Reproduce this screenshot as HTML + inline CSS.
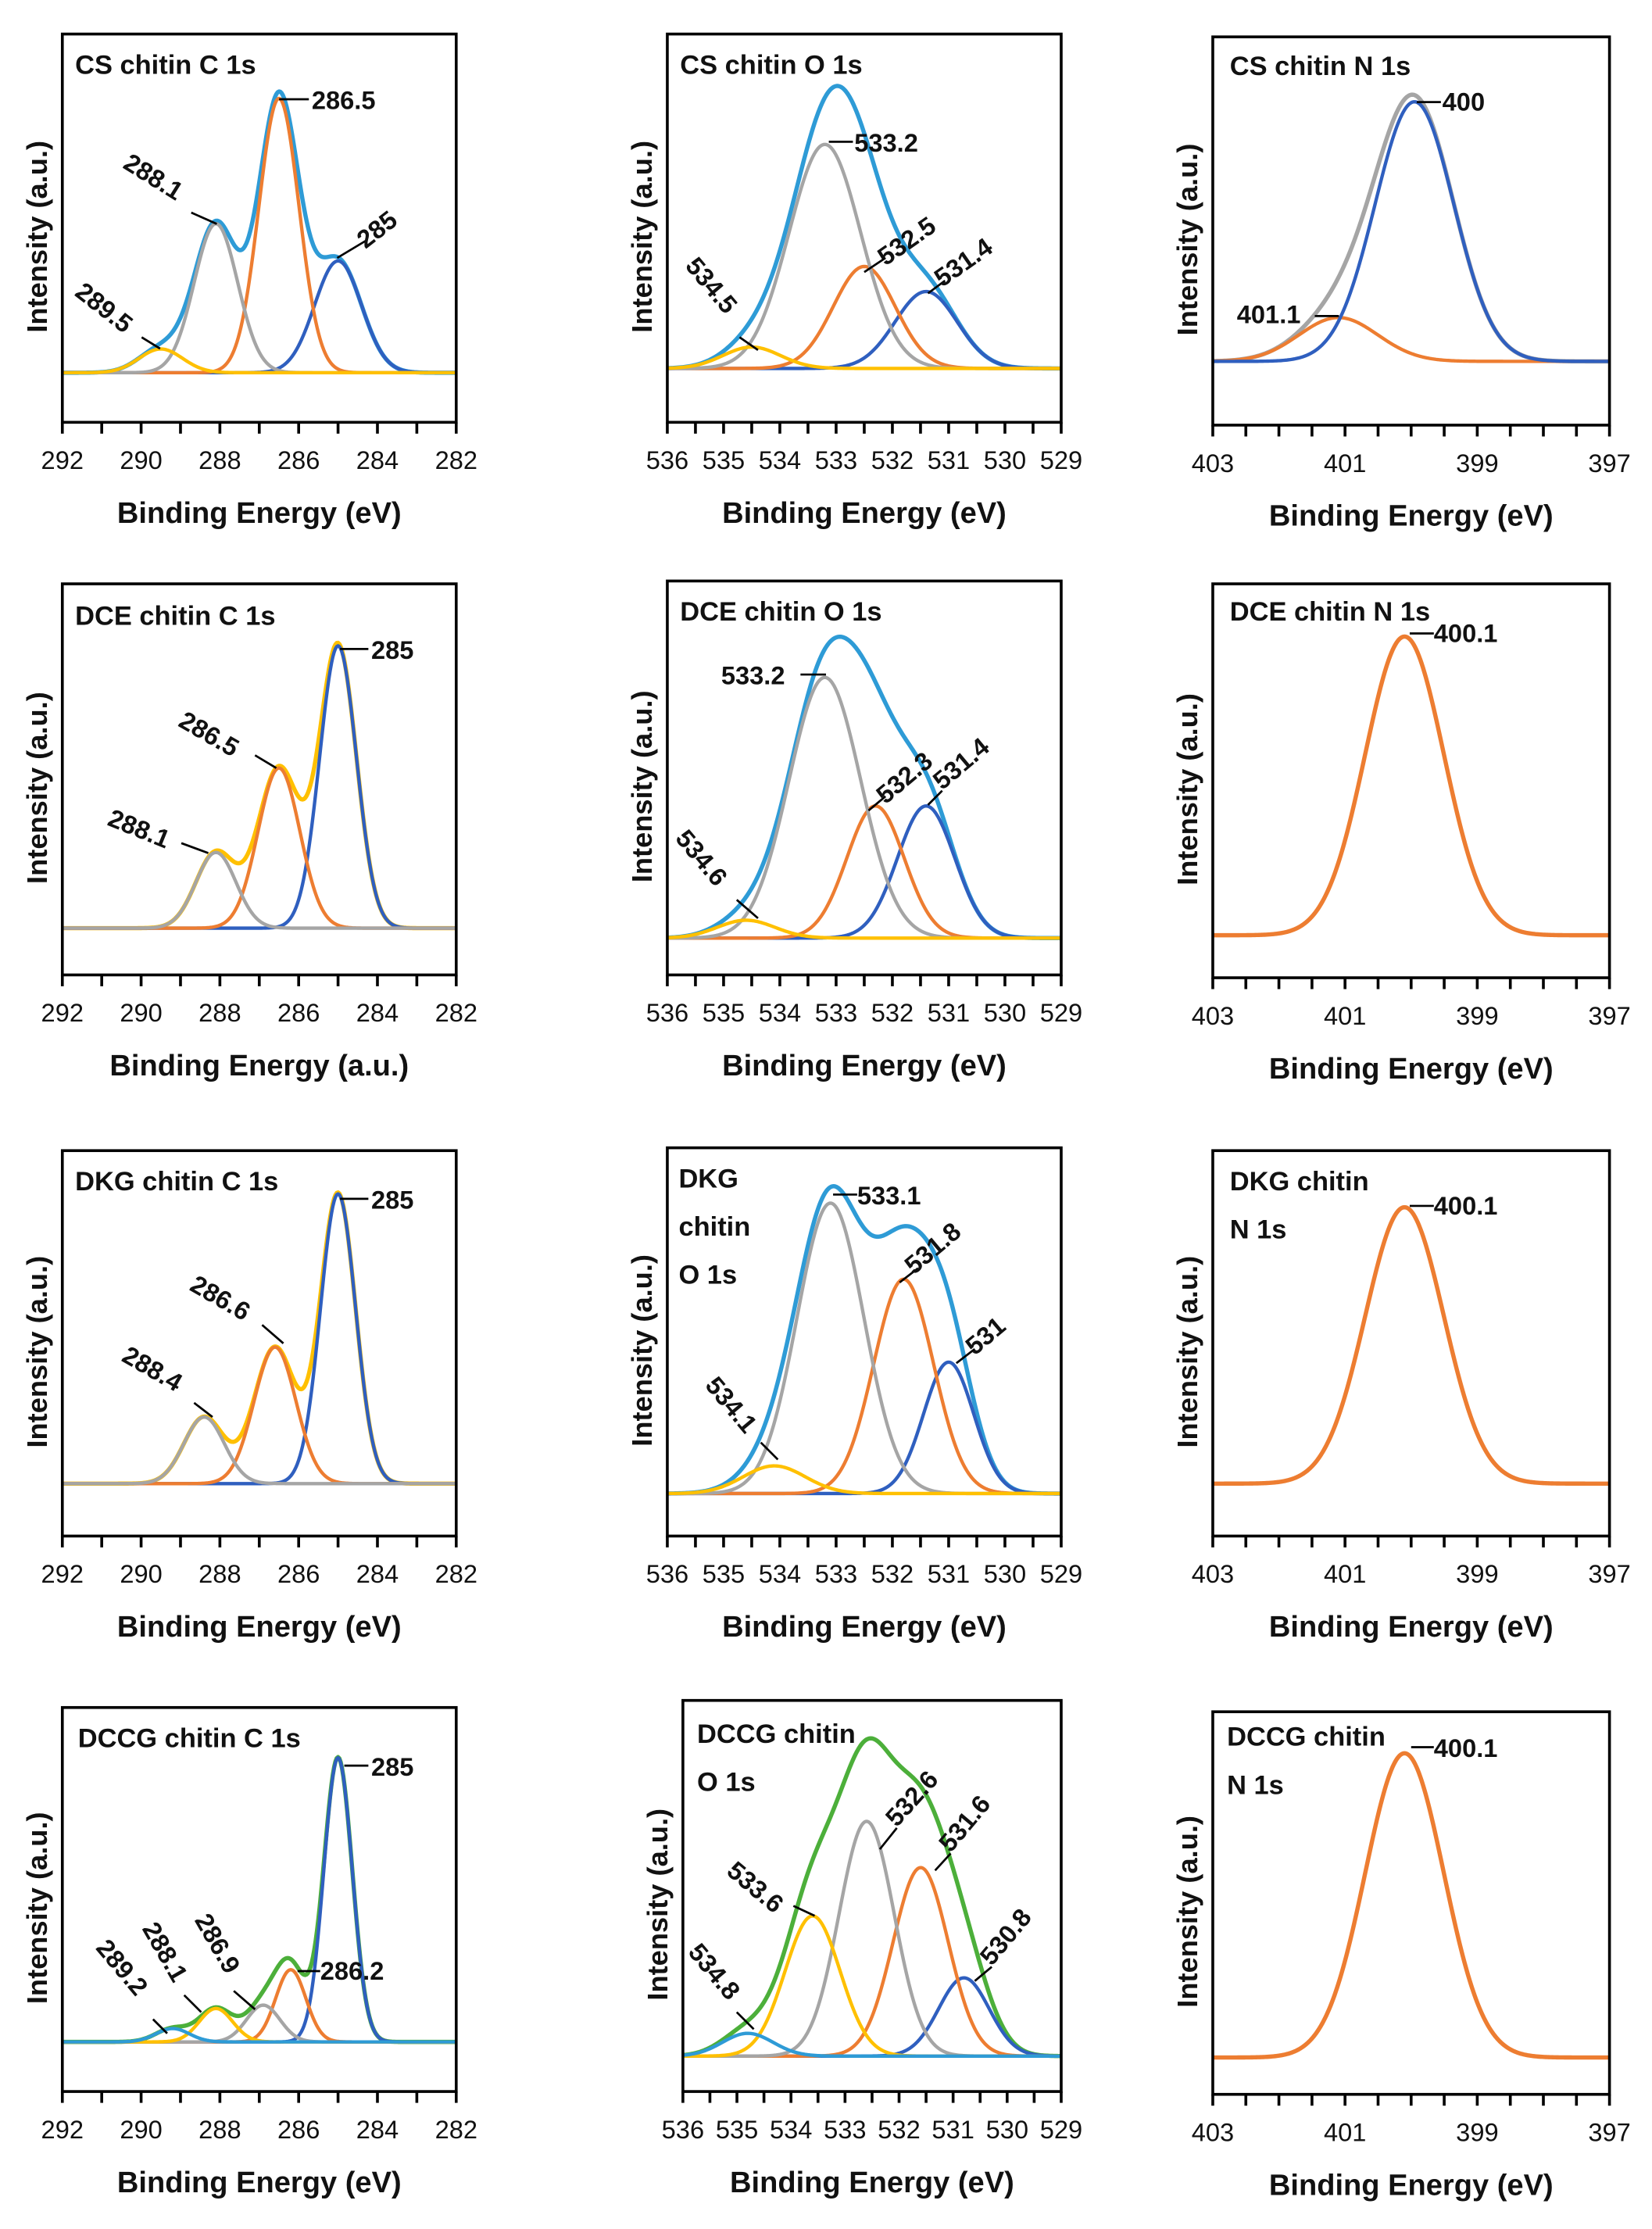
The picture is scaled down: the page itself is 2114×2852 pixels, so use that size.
<!DOCTYPE html>
<html><head><meta charset="utf-8"><style>
html,body{margin:0;padding:0;background:#fff}
svg{display:block}
text{font-family:"Liberation Sans",sans-serif;font-weight:bold;fill:#111}
</style></head><body>
<svg id="fig" width="2114" height="2852" viewBox="0 0 1166 1573" xmlns="http://www.w3.org/2000/svg"></svg>
<script>
// ---- data ----
const colC = {x0:292,x1:282,minor:1,major:[292,290,288,286,284,282]};
const colO = {x0:536,x1:529,minor:0.5,major:[536,535,534,533,532,531,530,529]};
const colN = {x0:403,x1:397,minor:0.5,major:[403,401,399,397]};
// components: [center eV, height, fwhm, color]
const p1c = [[289.5,7,1.3,'#FFC000'],[288.1,44,1.3,'#A5A5A5'],[286.5,81,1.2,'#ED7D31'],[285,33,1.4,'#2F5FBF']];
const p1o = [[534.5,6.4,1.2,'#FFC000'],[533.2,67,1.5,'#A5A5A5'],[532.5,30.5,1.3,'#ED7D31'],[531.4,23,1.3,'#2F5FBF']];
const p1n = [[399.95,80,1.4,'#2F5FBF'],[401.1,13.5,1.4,'#ED7D31']];
const p2c = [[288.1,22,1.2,'#A5A5A5'],[286.5,46.5,1.25,'#ED7D31'],[285,82,1.1,'#2F5FBF']];
const p2o = [[534.6,5,1.2,'#FFC000'],[533.2,73,1.5,'#A5A5A5'],[532.3,37,1.2,'#ED7D31'],[531.4,37,1.2,'#2F5FBF']];
const p2n = [[400.1,85,1.4,'#ED7D31']];
const p3c = [[288.4,20,1.2,'#A5A5A5'],[286.6,41,1.25,'#ED7D31'],[285,87,1.05,'#2F5FBF']];
const p3o = [[534.1,8,1.3,'#FFC000'],[533.1,84,1.4,'#A5A5A5'],[531.8,62,1.25,'#ED7D31'],[531,38,1.05,'#2F5FBF']];
const p3n = [[400.1,83,1.4,'#ED7D31']];
const p4c = [[289.2,4,1.0,'#2E9BD6'],[288.1,10,1.0,'#FFC000'],[286.9,11,1.0,'#A5A5A5'],[286.2,21.6,0.9,'#ED7D31'],[285,85,0.85,'#2F5FBF']];
const p4o = [[534.8,6.4,1.1,'#2E9BD6'],[533.6,39.4,1.2,'#FFC000'],[532.6,66,1.2,'#A5A5A5'],[531.6,53,1.2,'#ED7D31'],[530.8,22,1.1,'#2F5FBF']];
const p4n = [[400.1,88,1.4,'#ED7D31']];
const panels = [
 {id:'cs-c1s',box:[44,24,322,298],b:35,ax:colC,comps:p1c,env:'#2E9BD6',es:1,xl:'Binding Energy (eV)',title:['CS chitin C 1s'],tx:53,ty:52,ylx:26},
 {id:'cs-o1s',box:[471,24,749,298],b:38,ax:colO,comps:p1o,env:'#2E9BD6',es:1,xl:'Binding Energy (eV)',title:['CS chitin O 1s'],tx:480,ty:52,ylx:453},
 {id:'cs-n1s',box:[856,26,1136,300],b:45,ax:colN,comps:p1n,env:'#A5A5A5',es:1,xl:'Binding Energy (eV)',title:['CS chitin N 1s'],tx:868,ty:53,ylx:838},
 {id:'dce-c1s',box:[44,412,322,688],b:33,ax:colC,comps:p2c,env:'#FFC000',es:1,xl:'Binding Energy (a.u.)',title:['DCE chitin C 1s'],tx:53,ty:441,ylx:26},
 {id:'dce-o1s',box:[471,410,749,688],b:26,ax:colO,comps:p2o,env:'#2E9BD6',es:1,xl:'Binding Energy (eV)',title:['DCE chitin O 1s'],tx:480,ty:438,ylx:453},
 {id:'dce-n1s',box:[856,412,1136,690],b:30,ax:colN,comps:p2n,env:null,es:1,xl:'Binding Energy (eV)',title:['DCE chitin N 1s'],tx:868,ty:438,ylx:838},
 {id:'dkg-c1s',box:[44,812,322,1084],b:37,ax:colC,comps:p3c,env:'#FFC000',es:1,xl:'Binding Energy (eV)',title:['DKG chitin C 1s'],tx:53,ty:840,ylx:26},
 {id:'dkg-o1s',box:[471,810,749,1084],b:30,ax:colO,comps:p3o,env:'#2E9BD6',es:1,xl:'Binding Energy (eV)',title:['DKG','chitin','O 1s'],tx:479,ty:838,ylx:453},
 {id:'dkg-n1s',box:[856,812,1136,1084],b:37,ax:colN,comps:p3n,env:null,es:1,xl:'Binding Energy (eV)',title:['DKG chitin','N 1s'],tx:868,ty:840,ylx:838},
 {id:'dccg-c1s',box:[44,1205,322,1476],b:35,ax:colC,comps:p4c,env:'#4CAF3A',es:1,xl:'Binding Energy (eV)',title:['DCCG chitin C 1s'],tx:55,ty:1233,ylx:26},
 {id:'dccg-o1s',box:[482,1200,749,1476],b:25,ax:colO,comps:p4o,env:'#4CAF3A',es:1.12,xl:'Binding Energy (eV)',title:['DCCG chitin','O 1s'],tx:492,ty:1230,ylx:464},
 {id:'dccg-n1s',box:[856,1208,1136,1478],b:26,ax:colN,comps:p4n,env:null,es:1,xl:'Binding Energy (eV)',title:['DCCG chitin','N 1s'],tx:866,ty:1232,ylx:838}
];
const notes = [
 [['286.5',220,77,0,197,70,218,70],['288.1',86,118,32,135,150,153,158],['285',258,176,-38,238,182,258,170],['289.5',52,208,38,100,238,113,246]],
 [['533.2',603,107,0,585,100,602,100],['532.5',625,188,-35,610,192,625,182],['531.4',665,203,-35,655,207,667,198],['534.5',483,188,50,522,238,535,247]],
 [['400',1018,78,0,1000,72,1017,72],['401.1',873,228,0,928,223,945,223]],
 [['285',262,465,0,240,458,260,458],['286.5',125,512,30,180,533,195,542],['288.1',75,582,22,128,595,147,602]],
 [['533.2',509,483,0,565,476,583,476],['532.3',625,568,-40,613,572,625,562],['531.4',665,558,-40,655,568,665,558],['534.6',476,592,50,520,635,535,648]],
 [['400.1',1012,453,0,995,447,1012,447]],
 [['285',262,853,0,240,846,260,846],['286.6',133,910,30,185,935,200,948],['288.4',85,960,30,137,990,150,1000]],
 [['533.1',605,850,0,588,843,605,843],['531.8',645,900,-40,635,905,648,895],['531',688,957,-40,675,962,688,952],['534.1',497,978,50,537,1018,549,1030]],
 [['400.1',1012,857,0,995,851,1012,851]],
 [['285',262,1253,0,243,1246,260,1246],['286.2',226,1397,0,210,1391,226,1391],['286.9',137,1355,60,165,1405,180,1418],['288.1',100,1361,60,130,1408,142,1420],['289.2',67,1375,50,108,1425,118,1435]],
 [['532.6',633,1290,-48,621,1305,633,1290],['531.6',671,1308,-50,660,1320,671,1308],['530.8',700,1388,-50,688,1398,700,1388],['533.6',512,1322,40,560,1345,575,1352],['534.8',485,1378,50,520,1420,532,1432]],
 [['400.1',1012,1240,0,996,1233,1012,1233]]
];
// ---- drawing ----
const NS='http://www.w3.org/2000/svg';
const svg=document.getElementById('fig');
function mk(tag,attrs,parent){const e=document.createElementNS(NS,tag);for(const k in attrs)e.setAttribute(k,attrs[k]);(parent||svg).appendChild(e);return e;}
function gauss(x,c){return c[1]*Math.exp(-4*Math.LN2*Math.pow((x-c[0])/c[2],2));}
panels.forEach((p,pi)=>{
  const [l,t,r,bt]=p.box, H=bt-t, yMin=-100*p.b/(H-p.b);
  const sx=v=>l+(v-p.ax.x0)/(p.ax.x1-p.ax.x0)*(r-l);
  const sy=v=>bt-(v-yMin)/(100-yMin)*H;
  const g=mk('g',{});
  
  
  const N=300, xs=[];
  for(let i=0;i<=N;i++)xs.push(p.ax.x0+(p.ax.x1-p.ax.x0)*i/N);
  const line=(f,col,w,name)=>{
    const d=xs.map((x,i)=>(i?'L':'M')+sx(x).toFixed(2)+' '+sy(f(x)).toFixed(2)).join(' ');
    const e=mk('path',{d:d,fill:'none',stroke:col,'stroke-width':w,'stroke-linejoin':'round'},g);
    
    
  };
  if(p.env){
    line(x=>p.es*p.comps.reduce((s,c)=>s+gauss(x,c),0),p.env,3,p.id+'-envelope');
  }
  p.comps.slice().reverse().forEach(c=>line(x=>gauss(x,c),c[3],p.env?2.4:3,p.id+'-peak-'+c[0]));
  const bx=mk('rect',{x:l,y:t,width:r-l,height:H,fill:'none',stroke:'#000','stroke-width':2},g);
  
  
  const lo=Math.min(p.ax.x0,p.ax.x1),hi=Math.max(p.ax.x0,p.ax.x1);
  for(let v=lo;v<=hi+1e-6;v+=p.ax.minor){
    const tk=mk('line',{x1:sx(v),x2:sx(v),y1:bt,y2:bt+8,stroke:'#000','stroke-width':2},g);
    
    
  }
  p.ax.major.forEach(v=>{
    const tx=mk('text',{x:sx(v),y:bt+33,'text-anchor':'middle','font-size':18,style:'font-weight:normal'},g);
    tx.textContent=v;
    
    
  });
  const xl=mk('text',{x:(l+r)/2,y:bt+71,'text-anchor':'middle','font-size':21},g);
  xl.textContent=p.xl;
  
  
  const yc=(t+bt)/2+6;
  const yl=mk('text',{x:p.ylx+7,y:yc,'text-anchor':'middle','font-size':20,transform:'rotate(-90 '+(p.ylx+7)+' '+yc+')'},g);
  yl.textContent='Intensity (a.u.)';
  
  
  p.title.forEach((s,i)=>{
    const tt=mk('text',{x:p.tx,y:p.ty+i*34,'font-size':19},g);
    tt.textContent=s;
    
    
  });
  notes[pi].forEach(n=>{
    const ln=mk('line',{x1:n[4],y1:n[5],x2:n[6],y2:n[7],stroke:'#000','stroke-width':1.5},g);
    
    
    const tx=mk('text',{x:n[1],y:n[2],'font-size':18,transform:'rotate('+n[3]+' '+n[1]+' '+n[2]+')'},g);
    tx.textContent=n[0];
    
    
  });
});
</script>
</body></html>
